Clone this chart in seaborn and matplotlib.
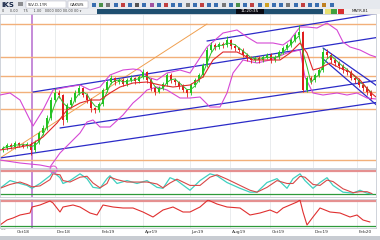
import numpy as np
import pandas as pd
import matplotlib
matplotlib.use("Agg")
import matplotlib.pyplot as plt
import seaborn as sns
from matplotlib.patches import Rectangle

sns.set_theme(style="white")
plt.rcParams['font.family'] = ['DejaVu Sans']

# ---------------- data ----------------
closes = [22, 25, 23, 27, 25, 24, 26, 20, 28, 37,
          42, 52, 70, 77, 75, 50, 65, 70, 77, 82,
          75, 70, 62, 60, 66, 80, 88, 92, 88, 90,
          86, 90, 92, 89, 93, 98, 90, 82, 78, 82,
          86, 95, 90, 88, 84, 80, 77, 85, 90, 95,
          105, 120, 125, 123, 126, 125, 130, 124, 122, 120,
          115, 112, 110, 112, 110, 113, 115, 110, 113, 118,
          122, 125, 130, 135, 138, 80, 92, 90, 95, 100,
          118, 115, 110, 107, 104, 100, 98, 92, 90, 85,
          82, 78, 74]
highs = [24, 27, 27, 29, 28, 27, 28, 28, 30, 39,
         45, 55, 73, 82, 80, 76, 67, 73, 80, 85,
         83, 77, 72, 63, 68, 82, 90, 95, 93, 92,
         92, 92, 95, 93, 95, 101, 99, 92, 84, 84,
         88, 97, 97, 92, 89, 86, 81, 87, 92, 97,
         107, 123, 128, 127, 128, 128, 134, 131, 126, 123,
         122, 117, 114, 114, 114, 115, 117, 117, 115, 120,
         124, 127, 132, 137, 145, 139, 94, 94, 97, 102,
         122, 121, 117, 112, 109, 106, 102, 100, 94, 92,
         87, 84, 80]
lows = [18, 20, 21, 21, 23, 22, 22, 15, 18, 26,
        35, 40, 50, 68, 72, 45, 48, 63, 68, 75,
        73, 67, 58, 57, 58, 64, 78, 86, 85, 86,
        84, 84, 88, 86, 87, 91, 87, 79, 75, 77,
        80, 84, 87, 85, 81, 78, 73, 75, 83, 88,
        93, 103, 118, 120, 121, 122, 123, 121, 119, 118,
        113, 109, 107, 108, 107, 108, 111, 107, 108, 111,
        116, 120, 123, 128, 132, 78, 78, 86, 88, 93,
        98, 112, 107, 104, 101, 97, 95, 90, 87, 83,
        79, 75, 71]
first_open = 20

# Bollinger bands (bar position, price)
bb_up_x = [-0.75, 1.75, 4.25, 6.75, 7.5, 10, 12.5, 16, 19.25, 21.75, 24.25, 26.75, 30, 32.5,
           34.25, 36, 38.5, 41, 44.25, 46.75, 51, 55, 58.5, 61, 63.5, 67.5, 70, 71.75, 74.25,
           76, 78.5, 81, 83.5, 85, 86.75, 89.25, 91.75, 93.25]
bb_up = [75, 77, 70, 50, 44, 60, 80, 83, 85, 80, 83, 95, 100, 101,
         100, 93, 90, 97, 100, 97, 123, 137, 140, 133, 127, 127, 125, 130, 143,
         143, 142, 147, 140, 128, 123, 120, 115, 113]
bb_lo_x = [-0.75, 4.25, 9.25, 11.75, 14.25, 16.75, 19.25, 21, 22.5, 24.25, 26.75, 30, 32.5,
           34.25, 36, 38.5, 41, 44.25, 46.75, 49.25, 51.75, 54.25, 56, 57.5, 60, 63.5, 66.75,
           71, 74.25, 75.5, 77.5, 80, 83.5, 86, 88.5, 91, 93.25]
bb_lo = [10, 7, 5, 3, 17, 27, 37, 48, 50, 43, 43, 55, 67,
         73, 80, 83, 80, 72, 72, 73, 63, 63, 77, 97, 110, 107, 110,
         117, 120, 93, 77, 75, 77, 75, 77, 72, 71]
# slow moving average (red)
ma_x = [-0.75, 4.25, 6.75, 10, 13.5, 16, 19.25, 21.75, 24.25, 26.75, 29.25, 32.5, 36, 39.25,
        42.5, 46.75, 50, 52.5, 55, 58.5, 62.5, 66.75, 69.25, 71.75, 74.25, 76, 77.5, 79.25,
        81.75, 84.25, 86.75, 89.25, 91.75, 93.25]
ma_red = [20, 23, 25, 33, 47, 60, 67, 70, 70, 77, 83, 87, 88, 85,
          83, 85, 93, 110, 118, 118, 110, 110, 110, 117, 127, 117, 100, 102,
          107, 102, 98, 90, 78, 73]

support_levels = [146, 113, 94.5, 78, 61, 10]
orange_trend = [(-0.75, 12), (51.0, 146)]
blue_channels = [
    [(7.5, 78), (94.25, 133)],
    [(14.25, 42), (94.25, 90)],
    [(-0.75, 12), (94.25, 68)],
    [(51.0, 129), (94.25, 157)],
    [(80.0, 122), (94.25, 82)],
    [(79.75, 112), (94.25, 62)],
]
marker_bar = 7.25

# Stochastic oscillator
stoch_x = [-0.75, 1.75, 4.25, 6, 7.25, 9.25, 11.75, 12.5, 14.25, 15, 16.75, 19.25, 21, 22.5,
           24.25, 26, 26.75, 28.5, 31, 33.5, 36, 38.5, 40, 41.75, 43.5, 46.75, 49.25, 51.75,
           53.5, 56, 59.25, 61.75, 63.5, 66, 68.5, 71, 72.5, 74.25, 75.5, 77.5, 79.25, 81,
           82.5, 85, 87.5, 89.25, 91, 92.25]
stoch_k = [35, 55, 47.5, 42.5, 35, 47.5, 67.5, 77.5, 62.5, 47.5, 55, 72.5, 60, 37.5,
           35, 60, 67.5, 47.5, 55, 47.5, 55, 37.5, 35, 62.5, 55, 30, 55, 72.5,
           67.5, 50, 35, 25, 25, 50, 60, 35, 60, 72.5, 55, 35, 50, 62.5,
           42.5, 25, 22.5, 30, 22.5, 20]
stoch_levels = [80, 20]

# RSI
rsi_x = [-0.75, 1, 2.5, 4.25, 6.75, 7.25, 9.25, 11.75, 12.5, 14.25, 15, 17.5, 19.25, 21.75,
         23.5, 25, 27.5, 30, 32.5, 35, 37.5, 40, 42.5, 45, 46.75, 49.25, 51.25, 53.5, 56,
         59.25, 61.75, 64.25, 66.75, 68.5, 70, 71.75, 73.5, 74.25, 75, 76, 77.5, 79.25,
         81.75, 84.25, 86.75, 88.5, 90, 91.75]
rsi = [31.6, 39.6, 42.8, 47.6, 50.8, 60.4, 63.6, 70.0, 66.8, 52.4, 60.4, 63.6, 60.4, 50.8,
       47.6, 63.6, 60.4, 58.8, 58.8, 52.4, 44.4, 55.6, 60.4, 52.4, 52.4, 60.4, 71.6, 65.2, 60.4,
       58.8, 47.6, 50.8, 55.6, 50.8, 58.8, 63.6, 68.4, 71.6, 52.4, 31.6, 44.4, 58.8,
       52.4, 50.8, 44.4, 47.6, 39.6, 36.4]
rsi_levels = [70, 30]

grid_bars = [3, 13, 24.25, 35, 46.75, 56.75, 66.75, 77.5, 88.5]
date_labels = ["Oct18", "Dec18", "Feb19", "Apr19", "Jun19", "Aug19", "Oct19", "Dec19", "Feb20"]

# ---------------- figure ----------------
W, H = 380, 240
fig = plt.figure(figsize=(3.8, 2.4), dpi=100)
fig.patch.set_facecolor("white")

def pax(x0, y0, x1, y1):
    return fig.add_axes([x0 / W, 1 - y1 / H, (x1 - x0) / W, (y1 - y0) / H])

XL = (-0.75, 93.25)
ax = pax(0, 14, 376, 168)
ax1 = pax(0, 169, 376, 197)
ax2 = pax(0, 199, 376, 228)

for a in (ax, ax1, ax2):
    a.set_xlim(*XL)
    a.set_facecolor("white")
    a.set_xticks([])
    a.set_yticks([])
    for s in a.spines.values():
        s.set_color("#c8ccd4")
        s.set_linewidth(0.6)
    for gb in grid_bars:
        a.axvline(gb, color="#e2e4e8", lw=0.5, zorder=0)
    a.axvline(marker_bar, color="#c58ad8", lw=1.4, zorder=1)

# main panel
ax.set_ylim(2, 156)
for lvl in support_levels:
    ax.axhline(lvl, color="#f2b07a", lw=1.0, zorder=1)
ax.plot([p[0] for p in orange_trend], [p[1] for p in orange_trend], color="#f0a050", lw=0.7, zorder=2)
for ln in blue_channels:
    ax.plot([p[0] for p in ln], [p[1] for p in ln], color="#2b2bc8", lw=0.9, zorder=2)

sns.lineplot(x=bb_up_x, y=bb_up, ax=ax, color="#d548d5", lw=0.8, zorder=3)
sns.lineplot(x=bb_lo_x, y=bb_lo, ax=ax, color="#d548d5", lw=0.8, zorder=3)

opens = [first_open] + closes[:-1]
idx = np.arange(len(closes))
df = pd.DataFrame({"bar": idx, "open": opens, "close": closes, "high": highs, "low": lows})
df["up"] = df["close"] >= df["open"]
up_col, dn_col = "#1fc41f", "#e01e1e"
for _, r in df.iterrows():
    col = up_col if r["up"] else dn_col
    ax.vlines(r["bar"], r["low"], r["high"], color=col, lw=0.6, zorder=4)
    body = r["close"] - r["open"]
    if abs(body) < 1:
        body = 1
    ax.bar(r["bar"], body, bottom=r["open"], width=0.55, color=col, lw=0, zorder=5)

fast_ma = df["close"].rolling(3, min_periods=1).mean()
sns.lineplot(x=idx, y=fast_ma, ax=ax, color="#2fbf2f", lw=0.7, zorder=6)
sns.lineplot(x=ma_x, y=ma_red, ax=ax, color="#e02828", lw=0.8, zorder=6)

# stochastic panel
ax1.set_ylim(12.5, 85)
ax1.axhline(stoch_levels[0], color="#e59090", lw=1.6)
ax1.axhline(stoch_levels[1], color="#2e9a3a", lw=0.9)
stoch_d = pd.Series(stoch_k).rolling(2, min_periods=1).mean()
sns.lineplot(x=stoch_x, y=stoch_k, ax=ax1, color="#3fd0c0", lw=0.9)
sns.lineplot(x=stoch_x, y=stoch_d, ax=ax1, color="#d84848", lw=0.8)

# RSI panel
ax2.set_ylim(26.8, 73.2)
ax2.axhline(rsi_levels[0], color="#e59090", lw=1.6)
ax2.axhline(rsi_levels[1], color="#2e9a3a", lw=0.9)
sns.lineplot(x=rsi_x, y=rsi, ax=ax2, color="#e03030", lw=0.8)

for a in (ax, ax1, ax2):
    a.set_xlabel("")
    a.set_ylabel("")
    if a.get_legend():
        a.get_legend().remove()

# marker circle on stochastic top
ax1.plot([12.5], [84], marker="o", ms=5, mfc="none", mec="#e060d0", mew=0.8, clip_on=False)

# date axis
for gb, lab in zip(grid_bars, date_labels):
    xp = ((gb - XL[0]) / (XL[1] - XL[0]) * 376 + 1.5) / W
    fig.text(xp, 1 - 232 / H, lab, fontsize=3.2, color="#333333", ha="left", va="center")
fig.text(0.5 / W, 1 - 229.5 / H, "\u2013\u2013\u2013", fontsize=2.6, color="#222222", va="center")
fig.add_artist(Rectangle((0, 0), 1, 4 / H, transform=fig.transFigure, color="#c8ccd2", lw=0))

# toolbar
fig.add_artist(Rectangle((0, 1 - 9 / H), 1, 9 / H, transform=fig.transFigure, color="#e6e9ee", lw=0))
fig.add_artist(Rectangle((0, 1 - 14 / H), 97 / W, 5 / H, transform=fig.transFigure, color="#eceef1", lw=0))
fig.add_artist(Rectangle((97 / W, 1 - 14 / H), 226 / W, 5 / H, transform=fig.transFigure, color="#1f4f70", lw=0))
fig.add_artist(Rectangle((236 / W, 1 - 14 / H), 28 / W, 5 / H, transform=fig.transFigure, color="#0a0a12", lw=0))
fig.text(250 / W, 1 - 11.5 / H, "11:20:35", fontsize=3, color="white", ha="center", va="center")
fig.text(1 / W, 1 - 5 / H, "iKS", fontsize=5, color="#1a2a4a", weight="bold", va="center")
fig.text(17 / W, 1 - 5 / H, "III", fontsize=4, color="#333", weight="bold", va="center")
fig.add_artist(Rectangle((26 / W, 1 - 8 / H), 40 / W, 7 / H, transform=fig.transFigure, fc="white", ec="#aab", lw=0.3))
fig.text(28 / W, 1 - 4.5 / H, "SLV-D-1YR", fontsize=2.8, color="#222", va="center")
fig.add_artist(Rectangle((68 / W, 1 - 8 / H), 20 / W, 7 / H, transform=fig.transFigure, fc="white", ec="#aab", lw=0.3))
fig.text(70 / W, 1 - 4.5 / H, "GAKWS", fontsize=2.8, color="#222", va="center")
icon_cols = ["#3a6fb0", "#4a8f4a", "#777", "#3a6fb0", "#c04040", "#3a6fb0", "#555", "#3a6fb0", "#a050a0",
             "#3a6fb0", "#c04040", "#3a6fb0", "#3a6fb0", "#777", "#3a6fb0", "#c04040", "#3a6fb0", "#3a6fb0",
             "#777", "#3a6fb0", "#4a8f4a", "#3a6fb0", "#c04040", "#3a6fb0", "#d0a020", "#3a6fb0", "#3a6fb0",
             "#777", "#3a6fb0", "#c04040", "#3a6fb0", "#3a6fb0", "#c08020", "#3a6fb0"]
for k, c in enumerate(icon_cols):
    x0 = 92 + k * 7.2
    fig.add_artist(Rectangle((x0 / W, 1 - 7 / H), 4 / W, 4 / H, transform=fig.transFigure, color=c, lw=0))
fig.text(2 / W, 1 - 11.5 / H, "0     0.00     75     1.00   0000 000 00.00 00 \u25be", fontsize=2.5, color="#444", va="center")
fig.add_artist(Rectangle((323 / W, 1 - 14 / H), 57 / W, 5 / H, transform=fig.transFigure, color="#f2f2f2", lw=0))
for x0, c in [(325, "#e8e070"), (331, "#40a040"), (338, "#d83030")]:
    fig.add_artist(Rectangle((x0 / W, 1 - 13.5 / H), 6 / W, 4 / H, transform=fig.transFigure, color=c, lw=0))
fig.text(352 / W, 1 - 11.5 / H, "MATR-B1", fontsize=2.8, color="#222", va="center")

fig.savefig("out.png", dpi=100)
